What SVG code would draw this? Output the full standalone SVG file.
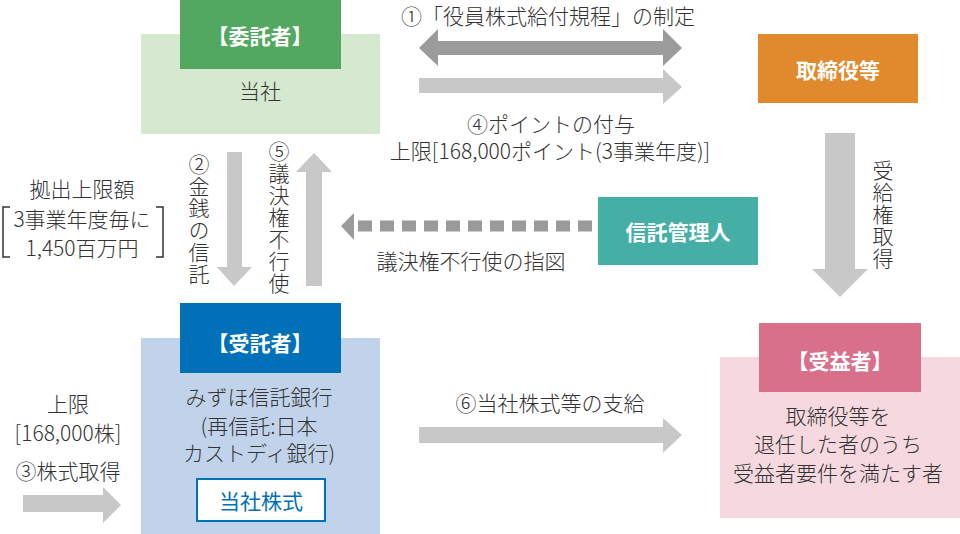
<svg xmlns="http://www.w3.org/2000/svg" width="960" height="534" viewBox="0 0 960 534">
<style>
text{font-family:"Noto Sans CJK JP","Noto Sans",sans-serif;font-size:21px;fill:#333;dominant-baseline:central;font-weight:300}
.c{text-anchor:middle}
.w{fill:#fff;font-weight:bold}
.v{writing-mode:vertical-rl;letter-spacing:1px}
.lg{fill:#c8c8c8}
.dg{fill:#9b9b9b}
.br{fill:none;stroke:#333;stroke-width:1.5}
</style>
<rect width="960" height="534" fill="#fff"/>

<g id="connectors">
  <polygon class="dg" points="419,48 438,29 438,41 663,41 663,29 682,48 663,66 663,55 438,55 438,66"/>
  <polygon class="lg" points="419,78 663,78 663,69 682,87 663,104 663,93 419,93"/>
  <polygon class="lg" points="227,152 242,152 242,267 252,267 234,286 217,267 227,267"/>
  <polygon class="lg" points="306,286 322,286 322,172 332,172 314,153 296,172 306,172"/>
  <line x1="358" y1="226" x2="598" y2="226" stroke="#9b9b9b" stroke-width="11" stroke-dasharray="14 8"/>
  <polygon class="dg" points="341,226 354,213 354,240"/>
  <polygon class="lg" points="825,133 855,133 855,269 868,269 840,297 812,269 825,269"/>
  <polygon class="lg" points="23,495 103,495 103,487 121,505 103,523 103,512 23,512"/>
  <polygon class="lg" points="419,427 663,427 663,418 682,435 663,453 663,443 419,443"/>
</g>

<g id="entrustor">
  <rect x="141" y="34" width="239" height="100" fill="#d5e8d0"/>
  <rect x="180" y="0" width="161" height="69" fill="#52a860"/>
  <text class="c w" x="260" y="35">【委託者】</text>
  <text class="c" x="260" y="90">当社</text>
</g>

<g id="directors">
  <rect x="758" y="34" width="160" height="69" fill="#e0892d"/>
  <text class="c w" x="838" y="69">取締役等</text>
</g>

<g id="trust-admin">
  <rect x="598" y="197" width="160" height="68" fill="#45afa6"/>
  <text class="c w" x="678" y="231">信託管理人</text>
</g>

<g id="trustee">
  <rect x="141" y="338" width="239" height="196" fill="#c1d3eb"/>
  <rect x="180" y="303" width="161" height="70" fill="#0070b9"/>
  <text class="c w" x="260" y="342">【受託者】</text>
  <text class="c" x="259" y="396">みずほ信託銀行</text>
  <text class="c" x="259" y="425">(再信託:日本</text>
  <text class="c" x="259" y="452">カストディ銀行)</text>
  <rect x="197" y="479" width="128" height="42" fill="#fff" stroke="#0070b9" stroke-width="2"/>
  <text class="c" x="261" y="500" style="fill:#0070b9;font-weight:normal">当社株式</text>
</g>

<g id="beneficiary">
  <rect x="720" y="357" width="240" height="161" fill="#f6d9df"/>
  <rect x="759" y="323" width="162" height="69" fill="#d9708b"/>
  <text class="c w" x="840" y="360">【受益者】</text>
  <text class="c" x="838" y="415">取締役等を</text>
  <text class="c" x="838" y="443">退任した者のうち</text>
  <text class="c" x="838" y="472">受益者要件を満たす者</text>
</g>

<g id="labels">
  <text class="c" x="548" y="15">①「役員株式給付規程」の制定</text>
  <text class="c" x="551" y="123">④ポイントの付与</text>
  <text class="c" x="550" y="150">上限[168,000ポイント(3事業年度)]</text>
  <text class="c" x="471" y="260">議決権不行使の指図</text>
  <text class="c" x="550" y="402">⑥当社株式等の支給</text>
  <text class="c" x="82" y="188">拠出上限額</text>
  <text class="c" x="82" y="218">3事業年度毎に</text>
  <text class="c" x="82" y="247">1,450百万円</text>
  <polyline class="br" points="10,207 3,207 3,257 10,257"/>
  <polyline class="br" points="156,207 163,207 163,257 156,257"/>
  <text class="c" x="68" y="403">上限</text>
  <text class="c" x="68" y="432">[168,000株]</text>
  <text class="c" x="68" y="470">③株式取得</text>
  <text class="v" x="199" y="154">②金銭の信託</text>
  <text class="v" x="279" y="141">⑤議決権不行使</text>
  <text class="v" x="883" y="160">受給権取得</text>
</g>
</svg>
